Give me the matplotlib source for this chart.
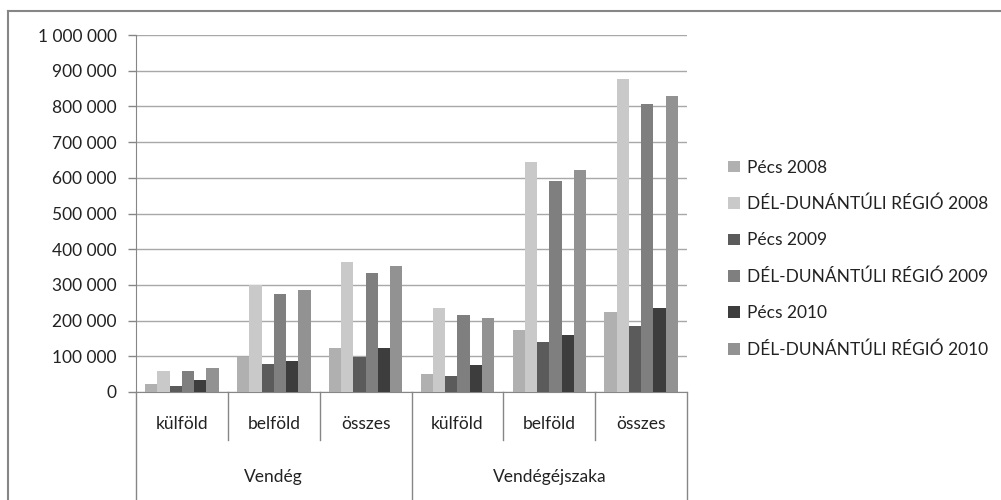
import numpy as np
import matplotlib.pyplot as plt
from matplotlib.lines import Line2D
from matplotlib.ticker import FuncFormatter

plt.rcParams['font.family'] = ['Lato', 'DejaVu Sans']

# categories: (group, sub-category)
groups = ['Vendég', 'Vendégéjszaka']
subcats = ['külföld', 'belföld', 'összes']

series = ['Pécs 2008', 'DÉL-DUNÁNTÚLI RÉGIÓ 2008', 'Pécs 2009',
          'DÉL-DUNÁNTÚLI RÉGIÓ 2009', 'Pécs 2010', 'DÉL-DUNÁNTÚLI RÉGIÓ 2010']

# values per series, order: Vendég külföld/belföld/összes, Vendégéjszaka külföld/belföld/összes
pecs_2008 = [22000, 98000, 122000, 50000, 173000, 224000]
ddr_2008 = [59000, 299000, 363000, 234000, 643000, 878000]
pecs_2009 = [18000, 79000, 98000, 44000, 141000, 184000]
ddr_2009 = [59000, 274000, 334000, 217000, 592000, 806000]
pecs_2010 = [33000, 88000, 122000, 76000, 159000, 236000]
ddr_2010 = [67000, 285000, 354000, 207000, 621000, 829000]

values = [pecs_2008, ddr_2008, pecs_2009, ddr_2009, pecs_2010, ddr_2010]
colors = ['#b0b0b0', '#c9c9c9', '#5b5b5b', '#7f7f7f', '#3d3d3d', '#929292']
fs = 12.5

fig = plt.figure(figsize=(10.01, 5.0), dpi=100)
ax = fig.add_axes([0.1359, 0.216, 0.5505, 0.714])

n_cat = len(groups) * len(subcats)
x = np.arange(n_cat)
bw = 0.8 / len(series)
handles = []
for i, (name, vals, c) in enumerate(zip(series, values, colors)):
    h = ax.bar(x - 0.4 + bw * (i + 0.5), vals, width=bw, color=c,
               label=name, zorder=3)
    handles.append(h)

ax.set_xlim(-0.5, n_cat - 0.5)
ax.set_ylim(0, 1000000)
ax.set_yticks(np.arange(0, 1000001, 100000))
ax.yaxis.set_major_formatter(FuncFormatter(lambda v, p: f'{int(v):,}'.replace(',', ' ')))
ax.grid(axis='y', color='#a8a8a8', linewidth=1.0, zorder=0)
ax.tick_params(axis='y', length=6, width=1, color='#868686', labelsize=fs,
               labelcolor='#222222', pad=8)
ax.set_xticks([])

for side in ['top', 'right']:
    ax.spines[side].set_visible(False)
ax.spines['left'].set_color('#868686')
ax.spines['bottom'].set_color('#868686')

# category axis: sub-category labels, group labels and separators
trans = ax.get_xaxis_transform()
for k in range(n_cat):
    ax.text(x[k], -0.09, subcats[k % len(subcats)], transform=trans,
            ha='center', va='center', fontsize=fs, color='#222222')
for g, name in enumerate(groups):
    ax.text(g * len(subcats) + (len(subcats) - 1) / 2, -0.238, name,
            transform=trans, ha='center', va='center', fontsize=fs,
            color='#222222')
for k in range(n_cat + 1):
    edge = k - 0.5
    y_end = -0.305 if k % len(subcats) == 0 else -0.135
    ax.plot([edge, edge], [0, y_end], transform=trans, color='#868686',
            linewidth=1, clip_on=False)

leg = fig.legend(handles=handles, loc='upper left',
                 bbox_to_anchor=(0.712, 0.712), frameon=False,
                 fontsize=fs, handlelength=0.65, handleheight=0.65,
                 handletextpad=0.4, labelspacing=1.16)
for t in leg.get_texts():
    t.set_color('#222222')

# chart-area frame
fig.add_artist(Line2D([0.008, 1.0], [0.978, 0.978], color='#868686', linewidth=1.5))
fig.add_artist(Line2D([0.008, 0.008], [0.0, 0.978], color='#868686', linewidth=1.5))

fig.savefig('out.png', dpi=100)
